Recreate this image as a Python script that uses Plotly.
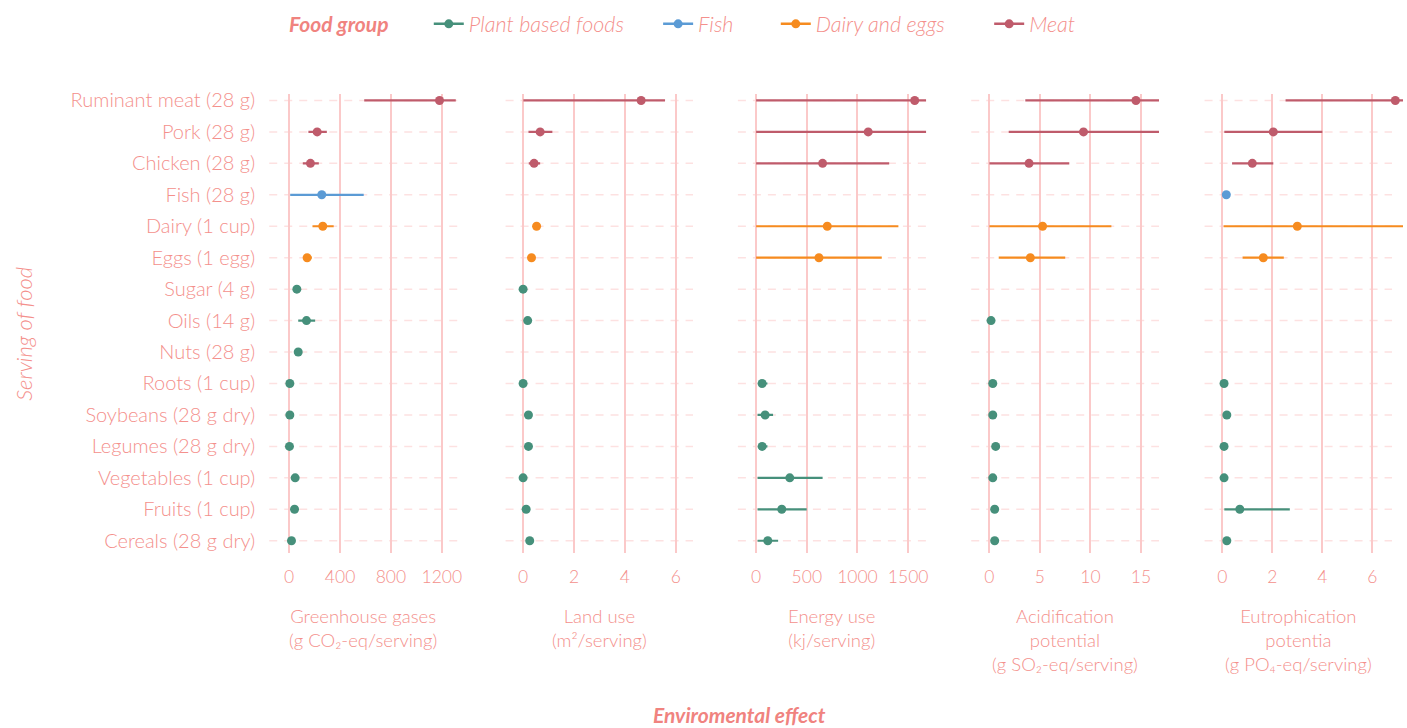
import plotly.graph_objects as go

# Servings, top to bottom
foods = ["Ruminant meat (28 g)", "Pork (28 g)", "Chicken (28 g)", "Fish (28 g)",
         "Dairy (1 cup)", "Eggs (1 egg)", "Sugar (4 g)", "Oils (14 g)", "Nuts (28 g)",
         "Roots (1 cup)", "Soybeans (28 g dry)", "Legumes (28 g dry)",
         "Vegetables (1 cup)", "Fruits (1 cup)", "Cereals (28 g dry)"]
groups = ["Meat", "Meat", "Meat", "Fish", "Dairy and eggs", "Dairy and eggs",
          "Plant based foods", "Plant based foods", "Plant based foods",
          "Plant based foods", "Plant based foods", "Plant based foods",
          "Plant based foods", "Plant based foods", "Plant based foods"]
group_order = ["Plant based foods", "Fish", "Dairy and eggs", "Meat"]
group_colors = ["#46907B", "#5B9BD5", "#F68B1F", "#BF5B6B"]

# Greenhouse gases (g CO2-eq/serving): median, low, high
ghg_mid = [1182, 220, 167, 256, 264, 141, 60, 136, 71, 5, 5, 2, 47, 42, 18]
ghg_lo = [590, 151, 107, 8, 183, 110, 55, 71, 58, 2, 2, 0, 35, 32, 10]
ghg_hi = [1310, 296, 233, 586, 350, 178, 66, 204, 85, 8, 8, 4, 62, 55, 26]

# Land use (m2/serving)
land_mid = [4.64, 0.67, 0.43, None, 0.53, 0.33, 0.0, 0.18, None, 0.0, 0.21, 0.21, 0.0, 0.12, 0.26]
land_lo = [0.01, 0.21, 0.22, None, 0.44, 0.24, 0.0, 0.12, None, 0.0, 0.18, 0.18, 0.0, 0.09, 0.20]
land_hi = [5.58, 1.15, 0.67, None, 0.62, 0.42, 0.0, 0.26, None, 0.0, 0.24, 0.24, 0.0, 0.15, 0.34]

# Energy use (kj/serving)
energy_mid = [1565, 1106, 656, None, 702, 620, None, None, None, 59, 89, 59, 332, 253, 115]
energy_lo = [0, 0, 0, None, 0, 0, None, None, None, 30, 14, 30, 14, 14, 14]
energy_hi = [1800, 1800, 1313, None, 1404, 1240, None, None, None, 112, 167, 112, 656, 499, 217]

# Acidification potential (g SO2-eq/serving)
acid_mid = [14.5, 9.31, 3.92, None, 5.26, 4.05, None, 0.16, None, 0.33, 0.33, 0.62, 0.33, 0.52, 0.52]
acid_lo = [3.55, 1.91, 0.0, None, 0.0, 0.92, None, 0.10, None, 0.30, 0.30, 0.35, 0.30, 0.40, 0.40]
acid_hi = [18.0, 18.0, 7.9, None, 12.07, 7.5, None, 0.22, None, 0.36, 0.36, 0.90, 0.36, 0.65, 0.65]

# Eutrophication potential (g PO4-eq/serving)
eutro_mid = [6.92, 2.04, 1.20, 0.16, 3.0, 1.64, None, None, None, 0.07, 0.18, 0.07, 0.07, 0.70, 0.18]
eutro_lo = [2.53, 0.08, 0.39, 0.16, 0.05, 0.81, None, None, None, 0.07, 0.18, 0.07, 0.07, 0.08, 0.18]
eutro_hi = [9.0, 4.0, 2.04, 0.16, 9.0, 2.46, None, None, None, 0.07, 0.18, 0.07, 0.07, 2.70, 0.18]

panel_titles = ["Greenhouse gases<br>(g CO₂-eq/serving)",
                "Land use<br>(m²/serving)",
                "Energy use<br>(kj/serving)",
                "Acidification<br>potential<br>(g SO₂-eq/serving)",
                "Eutrophication<br>potentia<br>(g PO₄-eq/serving)"]
panel_ticks = [[0, 400, 800, 1200], [0, 2, 4, 6], [0, 500, 1000, 1500], [0, 5, 10, 15], [0, 2, 4, 6]]
panel_ranges = [[-157, 1325], [-0.69, 6.68], [-180, 1677], [-1.8, 16.78], [-0.71, 7.227]]
panel_domains = [[270, 459], [507, 695], [740, 928.7], [974, 1162.3], [1208, 1407]]
# the last panel's grid stops short of its (unclipped) data area
grid_end = [1.0, 1.0, 1.0, 1.0, 188 / 199]

metrics = [(ghg_mid, ghg_lo, ghg_hi), (land_mid, land_lo, land_hi),
           (energy_mid, energy_lo, energy_hi), (acid_mid, acid_lo, acid_hi),
           (eutro_mid, eutro_lo, eutro_hi)]

W, H = 1407, 728
TXT = "#F4908C"
TITLE = "#F0837F"
FONT = "Lato"
LEG_Y = 17

fig = go.Figure()

# legend entries, one small legend per group
legend_x = [430, 660, 778, 992]
for i, (g, c) in enumerate(zip(group_order, group_colors)):
    lg = "legend" if i == 0 else "legend%d" % (i + 1)
    fig.add_trace(go.Scatter(x=[None], y=[None], mode="lines+markers", name=g,
                             line=dict(color=c, width=2.5), marker=dict(color=c, size=9),
                             legendgroup=g, showlegend=True, legend=lg,
                             xaxis="x", yaxis="y"))

for p, (mid, lo, hi) in enumerate(metrics):
    ax = "" if p == 0 else str(p + 1)
    for g, c in zip(group_order, group_colors):
        ys, xs, ep, em = [], [], [], []
        for f, grp, m, l, h in zip(foods, groups, mid, lo, hi):
            if grp != g or m is None:
                continue
            ys.append(f)
            xs.append(m)
            ep.append(h - m)
            em.append(m - l)
        if not xs:
            continue
        fig.add_trace(go.Scatter(
            x=xs, y=ys, mode="markers", name=g, legendgroup=g, showlegend=False,
            marker=dict(color=c, size=9),
            error_x=dict(type="data", symmetric=False, array=ep, arrayminus=em,
                         color=c, thickness=2.2, width=0),
            xaxis="x" + ax, yaxis="y" + ax))

layout = dict(
    width=W, height=H, margin=dict(l=0, r=0, t=0, b=0),
    paper_bgcolor="white", plot_bgcolor="white",
    font=dict(family=FONT, color=TXT, size=20),
    showlegend=True,
)
for i in range(4):
    lg = "legend" if i == 0 else "legend%d" % (i + 1)
    layout[lg] = dict(orientation="h", x=legend_x[i] / W, xanchor="left",
                      y=1 - LEG_Y / H, yanchor="middle", bgcolor="rgba(0,0,0,0)",
                      font=dict(family=FONT, size=21.5, color=TXT, style="italic", weight=300))

ydom = [1 - 551 / H, 1 - 88 / H]
shapes = []
for p in range(5):
    ax = "" if p == 0 else str(p + 1)
    d0, d1 = panel_domains[p]
    layout["xaxis" + ax] = dict(
        domain=[d0 / W, d1 / W], range=panel_ranges[p], anchor="y" + ax,
        tickvals=panel_ticks[p], ticks="", showline=False, zeroline=False,
        showgrid=True, gridcolor="#FBC9C9", gridwidth=2,
        tickfont=dict(family=FONT, size=17.5, color=TXT, weight=300), ticklabelstandoff=12)
    layout["yaxis" + ax] = dict(
        domain=ydom, anchor="x" + ax, type="category",
        categoryorder="array", categoryarray=foods, range=[14.38, -0.2],
        showticklabels=(p == 0), ticks="", showline=False, zeroline=False,
        showgrid=False,
        tickfont=dict(family=FONT, size=20, color=TXT, weight=300), ticklabelstandoff=13)
    if p > 0:
        layout["yaxis" + ax]["matches"] = "y"
    # dashed row guides
    for f in foods:
        shapes.append(dict(type="line", xref="x%s domain" % ax, yref="y" + ax,
                           x0=0, x1=grid_end[p], y0=f, y1=f, layer="below",
                           line=dict(color="#FDE1E1", width=1.5, dash="8px,7px")))
layout["shapes"] = shapes

annotations = []
for p in range(5):
    d0, d1 = panel_domains[p]
    cx = (d0 + d0 + 188) / 2
    annotations.append(dict(text=panel_titles[p], x=cx / W, y=1 - 602 / H,
                            xref="paper", yref="paper", xanchor="center", yanchor="top",
                            showarrow=False, align="center",
                            font=dict(family=FONT, size=18.5, color=TXT, weight=300)))
annotations.append(dict(text="Food group", x=288 / W, y=1 - LEG_Y / H, xref="paper", yref="paper",
                        showarrow=False, xanchor="left", yanchor="middle",
                        font=dict(family=FONT, size=21, color=TITLE, style="italic", weight="bold")))
annotations.append(dict(text="Serving of food", x=24 / W, y=1 - 330 / H, xref="paper", yref="paper",
                        textangle=-90, showarrow=False, xanchor="center", yanchor="middle",
                        font=dict(family=FONT, size=22, color=TXT, style="italic", weight=300)))
annotations.append(dict(text="Enviromental effect", x=742 / W, y=1 - 714 / H, xref="paper", yref="paper",
                        showarrow=False, xanchor="center", yanchor="middle",
                        font=dict(family=FONT, size=21, color=TITLE, style="italic", weight="bold")))
layout["annotations"] = annotations

fig.update_layout(**layout)
fig.write_html("out.html")
